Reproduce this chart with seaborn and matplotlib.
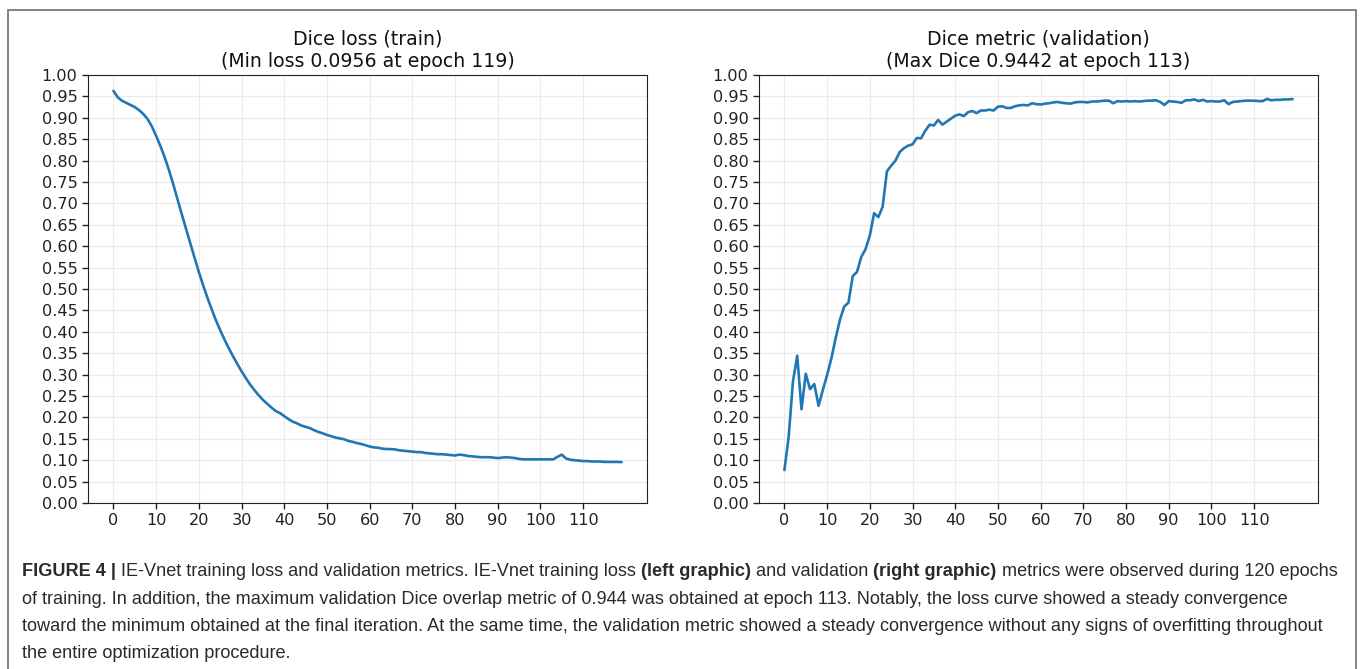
import numpy as np
import pandas as pd
import seaborn as sns
import matplotlib.pyplot as plt
from matplotlib.patches import Rectangle

# values, one per epoch (0..119)
train_loss = [
    0.963, 0.948, 0.940, 0.935, 0.930, 0.925, 0.918, 0.909, 0.897, 0.880,
    0.858, 0.834, 0.808, 0.778, 0.745, 0.710, 0.675, 0.641, 0.607, 0.573,
    0.540, 0.509, 0.480, 0.453, 0.427, 0.404, 0.382, 0.362, 0.343, 0.325,
    0.308, 0.292, 0.277, 0.264, 0.252, 0.241, 0.232, 0.223, 0.215, 0.210,
    0.203, 0.196, 0.190, 0.186, 0.181, 0.178, 0.175, 0.170, 0.166, 0.163,
    0.159, 0.156, 0.153, 0.151, 0.149, 0.145, 0.143, 0.140, 0.138, 0.135,
    0.132, 0.130, 0.129, 0.127, 0.126, 0.126, 0.125, 0.123, 0.122, 0.121,
    0.120, 0.119, 0.119, 0.117, 0.116, 0.115, 0.114, 0.114, 0.113, 0.112,
    0.111, 0.113, 0.112, 0.110, 0.109, 0.108, 0.107, 0.107, 0.107, 0.106,
    0.105, 0.106, 0.107, 0.106, 0.105, 0.103, 0.102, 0.102, 0.102, 0.102,
    0.102, 0.102, 0.102, 0.102, 0.108, 0.113, 0.104, 0.101, 0.100, 0.099,
    0.098, 0.098, 0.097, 0.097, 0.097, 0.096, 0.096, 0.096, 0.096, 0.0956,
]

val_dice = [
    0.077, 0.155, 0.284, 0.344, 0.219, 0.302, 0.266, 0.278, 0.227, 0.264,
    0.299, 0.338, 0.385, 0.428, 0.459, 0.468, 0.530, 0.540, 0.575, 0.593,
    0.625, 0.677, 0.668, 0.692, 0.775, 0.788, 0.800, 0.820, 0.829, 0.835,
    0.838, 0.853, 0.852, 0.870, 0.884, 0.882, 0.895, 0.884, 0.891, 0.898,
    0.905, 0.908, 0.904, 0.913, 0.916, 0.911, 0.917, 0.917, 0.919, 0.917,
    0.926, 0.927, 0.923, 0.923, 0.927, 0.929, 0.930, 0.929, 0.934, 0.932,
    0.931, 0.933, 0.934, 0.936, 0.937, 0.935, 0.934, 0.933, 0.936, 0.937,
    0.937, 0.936, 0.938, 0.938, 0.939, 0.940, 0.940, 0.934, 0.939, 0.938,
    0.939, 0.938, 0.939, 0.938, 0.939, 0.940, 0.940, 0.941, 0.937, 0.930,
    0.939, 0.938, 0.937, 0.935, 0.941, 0.941, 0.943, 0.939, 0.942, 0.938,
    0.939, 0.938, 0.938, 0.941, 0.932, 0.937, 0.938, 0.939, 0.940, 0.940,
    0.940, 0.939, 0.939, 0.9442, 0.941, 0.942, 0.942, 0.943, 0.943, 0.9438,
]

epochs = np.arange(len(train_loss))
x_ticks = list(range(0, 120, 10))
y_ticks = [round(v * 0.05, 2) for v in range(21)]

titles = [
    'Dice loss (train)\n(Min loss 0.0956 at epoch 119)',
    'Dice metric (validation)\n(Max Dice 0.9442 at epoch 113)',
]

caption_lines = [
    [('FIGURE 4 |', 'bold'), ('IE-Vnet training loss and validation metrics. IE-Vnet training loss', 'normal'),
     ('(left graphic)', 'bold'), ('and validation', 'normal'), ('(right graphic)', 'bold'),
     ('metrics were observed during 120 epochs', 'normal')],
    [('of training. In addition, the maximum validation Dice overlap metric of 0.944 was obtained at epoch 113. '
      'Notably, the loss curve showed a steady convergence', 'normal')],
    [('toward the minimum obtained at the final iteration. At the same time, the validation metric showed a '
      'steady convergence without any signs of overfitting throughout', 'normal')],
    [('the entire optimization procedure.', 'normal')],
]


def setup_style():
    sns.set_style("whitegrid", rc={
        'axes.edgecolor': '#222222',
        'axes.linewidth': 1.0,
        'grid.color': '#ebebeb',
        'grid.linewidth': 1.0,
        'xtick.bottom': True,
        'ytick.left': True,
        'xtick.color': '#222222',
        'ytick.color': '#222222',
        'text.color': '#111111',
    })
    plt.rcParams['font.family'] = ['DejaVu Sans']


def draw_rich_line(fig, renderer, x_px, y_px, parts, size, family):
    W, H = fig.bbox.width, fig.bbox.height
    probe = fig.text(0, 0, 'a a', fontsize=size, family=family)
    probe2 = fig.text(0, 0, 'aa', fontsize=size, family=family)
    space = probe.get_window_extent(renderer).width - probe2.get_window_extent(renderer).width
    probe.remove()
    probe2.remove()
    x = x_px
    for txt, weight in parts:
        t = fig.text(x / W, 1 - y_px / H, txt, fontsize=size, family=family,
                     weight=weight, va='baseline', ha='left', color='#2a2a2a')
        x += t.get_window_extent(renderer).width + space


def main():
    setup_style()
    fig = plt.figure(figsize=(13.62, 6.69), dpi=100)
    W, H = 1362, 669

    fig.add_artist(Rectangle((8 / W, -0.1), (1356 - 8) / W, (669 - 10) / H + 0.1,
                             transform=fig.transFigure, fill=False,
                             edgecolor='#7a7a7a', linewidth=1.3))

    series = [train_loss, val_dice]
    lefts = [88, 759]
    for i in range(2):
        ax = fig.add_axes([lefts[i] / W, (H - 503) / H, 559 / W, 428 / H])
        df = pd.DataFrame({'epoch': epochs, 'value': series[i]})
        sns.lineplot(data=df, x='epoch', y='value', ax=ax, color='#1f77b4', linewidth=1.9)
        ax.set_ylim(0, 1.0)
        ax.set_yticks(y_ticks)
        ax.set_yticklabels([f'{v:.2f}' for v in y_ticks])
        ax.set_xticks(x_ticks)
        ax.tick_params(labelsize=11.6, length=4, width=1)
        ax.set_xlabel('')
        ax.set_ylabel('')
        ax.set_title(titles[i], fontsize=13.6, pad=6)
        for s in ax.spines.values():
            s.set_visible(True)

    renderer = fig.canvas.get_renderer()
    family = ['Liberation Sans']
    baselines = [576, 604, 631, 658]
    for y, parts in zip(baselines, caption_lines):
        draw_rich_line(fig, renderer, 22, y, parts, 13.1, family)

    fig.savefig('out.png', dpi=100)


if __name__ == '__main__':
    main()
